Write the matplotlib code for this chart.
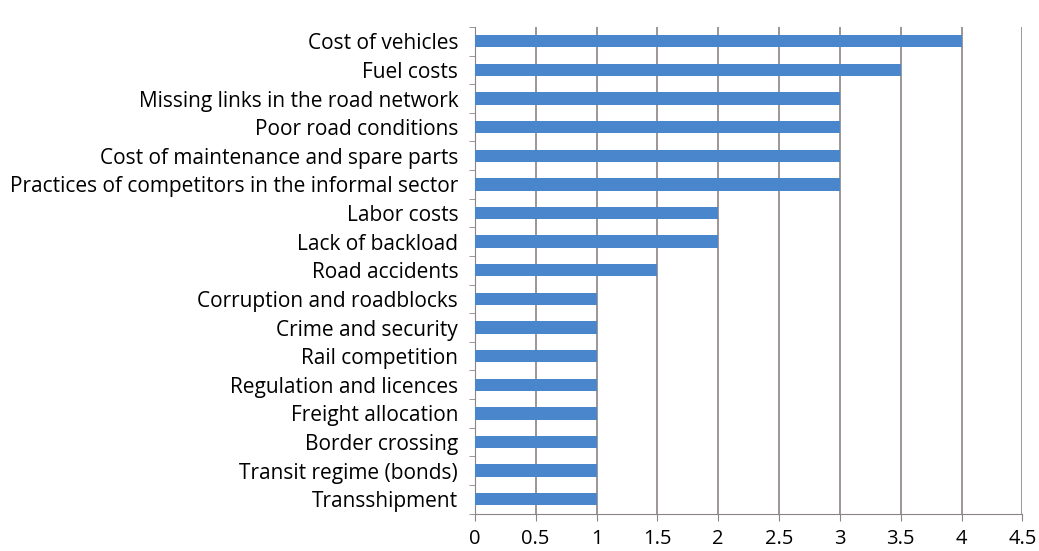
import matplotlib
matplotlib.use("Agg")
import matplotlib.pyplot as plt
import numpy as np

categories = [
    "Cost of vehicles",
    "Fuel costs",
    "Missing links in the road network",
    "Poor road conditions",
    "Cost of maintenance and spare parts",
    "Practices of competitors in the informal sector",
    "Labor costs",
    "Lack of backload",
    "Road accidents",
    "Corruption and roadblocks",
    "Crime and security",
    "Rail competition",
    "Regulation and licences",
    "Freight allocation",
    "Border crossing",
    "Transit regime (bonds)",
    "Transshipment",
]
scores = [4, 3.5, 3, 3, 3, 3, 2, 2, 1.5, 1, 1, 1, 1, 1, 1, 1, 1]
xticks = [0, 0.5, 1, 1.5, 2, 2.5, 3, 3.5, 4, 4.5]

plt.rcParams["font.family"] = ["Open Sans", "DejaVu Sans"]

fig = plt.figure(figsize=(10.39, 5.51), dpi=100)
ax = fig.add_axes([0.457, 0.068, 0.527, 0.883])

y = np.arange(len(categories))
ax.barh(y, scores, height=0.43, color="#4a86cb", zorder=3)

ax.set_ylim(len(categories) - 0.5, -0.5)
ax.set_xlim(0, 4.5)
ax.set_xticks(xticks)
ax.set_xticklabels([f"{t:g}" for t in xticks], fontsize=14.5)
ax.set_yticks(y)
ax.set_yticklabels(categories, fontsize=15)
ax.set_yticks(np.arange(len(categories) + 1) - 0.5, minor=True)

ax.grid(axis="x", color="#8c8484", linewidth=1.2, zorder=0)
for s in ["top", "right"]:
    ax.spines[s].set_visible(False)
ax.spines["left"].set_color("#8c8484")
ax.spines["bottom"].set_color("#8c8484")
ax.tick_params(axis="y", which="major", length=0, pad=12)
ax.tick_params(axis="y", which="minor", length=4, color="#8c8484")
ax.tick_params(axis="x", length=5, color="#8c8484", pad=6)

fig.savefig("out.png", dpi=100)
